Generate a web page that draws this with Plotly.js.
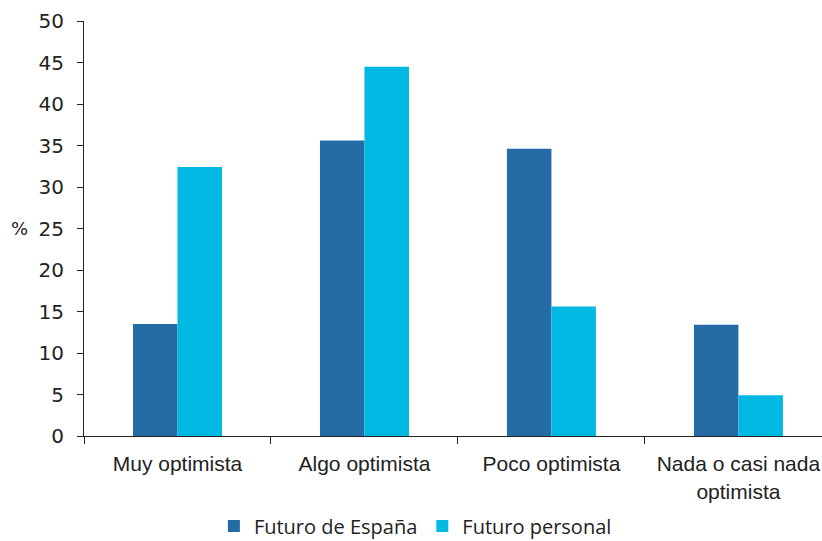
<!DOCTYPE html>
<html>
<head>
<meta charset="utf-8">
<script src="https://cdn.plot.ly/plotly-3.0.1.min.js"></script>
<style>html,body{margin:0;padding:0;background:#fff;}#chart{width:822px;height:541px;}</style>
</head>
<body>
<div id="chart"></div>
<script>
const categories = ["Muy optimista", "Algo optimista", "Poco optimista", "Nada o casi nada<br>optimista"];
const seriesNames = ["Futuro de España", "Futuro personal"];
const futuroEspana = [13.5, 35.6, 34.6, 13.4];
const futuroPersonal = [32.4, 44.5, 15.6, 4.9];
const yTickValues = [0, 5, 10, 15, 20, 25, 30, 35, 40, 45, 50];

const traces = [
  {type: "bar", name: seriesNames[0], x: categories, y: futuroEspana,
   marker: {color: "#256BA5", line: {width: 0}}},
  {type: "bar", name: seriesNames[1], x: categories, y: futuroPersonal,
   marker: {color: "#00B9E3", line: {width: 0}}}
];

const layout = {
  width: 822, height: 541,
  margin: {l: 84, r: 0, t: 21, b: 105, autoexpand: false},
  paper_bgcolor: "#fff", plot_bgcolor: "#fff",
  barmode: "group", bargap: 0.524, bargroupgap: 0,
  showlegend: true,
  legend: {orientation: "h", x: 0.176, xanchor: "left", y: -0.17, yanchor: "top",
           font: {family: "Open Sans, sans-serif", size: 20, color: "#222"},
           itemwidth: 30, tracegroupgap: 0},
  xaxis: {type: "category", range: [-0.5, 3.447], showgrid: false, zeroline: false,
          showline: true, linecolor: "#222", linewidth: 1, automargin: false,
          ticks: "outside", tickson: "boundaries", ticklen: 7, tickcolor: "#222", tickangle: 0,
          ticklabelstandoff: 9,
          tickfont: {family: "Liberation Sans, sans-serif", size: 21, color: "#222"}},
  yaxis: {range: [0, 50], tickvals: yTickValues, showgrid: false, zeroline: false,
          showline: true, linecolor: "#222", linewidth: 1, automargin: false,
          ticks: "outside", ticklen: 6, tickcolor: "#222", ticklabelstandoff: 9,
          tickfont: {family: "DejaVu Sans, sans-serif", size: 20, color: "#222"}},
  annotations: [{text: "%", xref: "paper", yref: "y", x: 0, y: 25, xanchor: "right",
                 xshift: -54, yanchor: "middle", showarrow: false,
                 font: {family: "DejaVu Sans, sans-serif", size: 18, color: "#222"}}]
};

Plotly.newPlot("chart", traces, layout, {displayModeBar: false, staticPlot: true});
</script>
</body>
</html>
